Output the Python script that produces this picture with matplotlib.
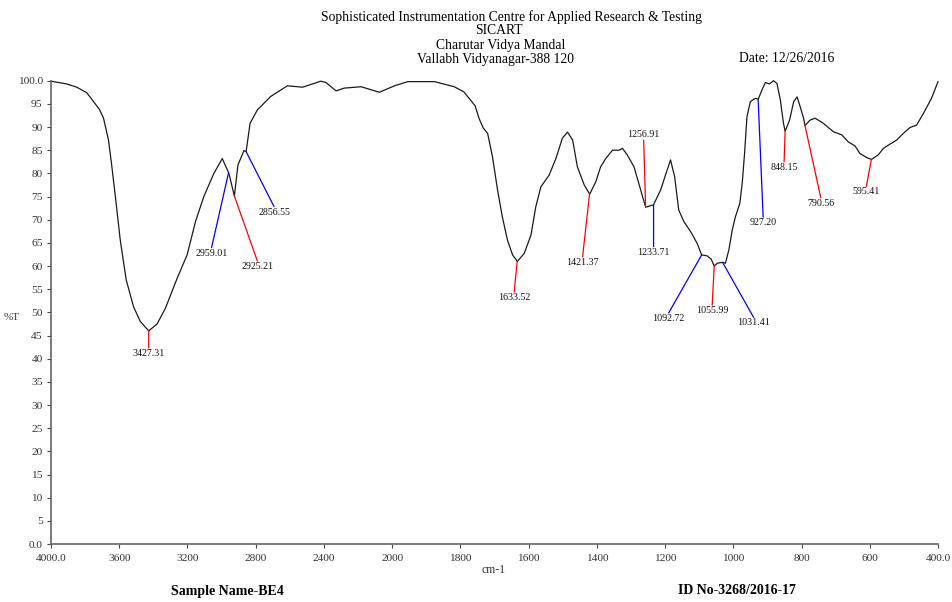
import numpy as np
import matplotlib
matplotlib.use("Agg")
import matplotlib.pyplot as plt

plt.rcParams["font.family"] = ["Liberation Serif", "DejaVu Serif"]

# FTIR spectrum, wavenumber (cm-1) vs transmittance (%T)
wavenumber = [4000, 3908, 3849, 3790, 3751, 3716, 3692, 3663, 3643, 3618, 3594, 3559,
              3516, 3476, 3427, 3378, 3329, 3261, 3202, 3153, 3104, 3045, 2996, 2957,
              2925, 2904, 2869, 2856, 2833, 2790, 2712, 2614, 2525, 2418, 2388, 2329,
              2281, 2182, 2075, 1993, 1954, 1876, 1818, 1790, 1770, 1757, 1745, 1733,
              1720, 1706, 1691, 1677, 1662, 1647, 1633, 1613, 1593, 1579, 1564, 1540,
              1520, 1501, 1486, 1471, 1457, 1437, 1421, 1403, 1389, 1374, 1354, 1335,
              1325, 1311, 1291, 1277, 1267, 1257, 1243, 1234, 1213, 1199, 1184, 1172,
              1160, 1145, 1125, 1106, 1093, 1077, 1065, 1056, 1047, 1032, 1023, 1013,
              1003, 994, 981, 974, 967, 960, 950, 935, 927, 916, 906, 894,
              882, 872, 862, 853, 848, 835, 823, 813, 804, 794, 790, 775,
              760, 736, 707, 682, 663, 643, 629, 609, 595, 575, 560, 541,
              521, 502, 482, 463, 443, 419, 400]
transmittance = [99.9, 99.3, 98.6, 97.4, 95.5, 93.8, 91.9, 87.2, 81.4, 73.5, 65.6, 57.0,
                 51.2, 48.0, 46.0, 47.5, 50.9, 57.3, 62.4, 69.6, 75.0, 80.0, 83.2, 80.0,
                 75.1, 81.8, 84.9, 84.7, 90.8, 93.7, 96.6, 98.9, 98.6, 99.9, 99.6, 97.8,
                 98.4, 98.7, 97.5, 98.9, 99.8, 99.8, 98.7, 97.6, 95.8, 94.6, 91.8, 89.8,
                 88.6, 83.6, 76.4, 70.6, 65.6, 62.4, 61.0, 62.7, 66.7, 72.8, 77.1, 79.6,
                 83.2, 87.6, 88.9, 87.2, 81.4, 77.5, 75.5, 78.2, 81.4, 83.2, 85.0, 85.0,
                 85.4, 84.0, 81.4, 77.8, 75.3, 72.7, 73.0, 73.2, 76.4, 79.6, 82.9, 79.3,
                 72.1, 69.6, 67.4, 64.9, 62.4, 62.2, 61.5, 60.0, 60.6, 60.8, 60.6, 63.5,
                 67.8, 70.6, 73.5, 77.8, 84.3, 92.2, 95.5, 96.2, 96.0, 98.0, 99.6, 99.3,
                 100.0, 99.4, 95.8, 90.8, 89.1, 91.5, 95.5, 96.5, 94.4, 91.9, 90.3, 91.5,
                 91.9, 90.8, 89.0, 88.3, 86.8, 85.9, 84.3, 83.4, 83.0, 84.0, 85.4, 86.3,
                 87.2, 88.6, 89.9, 90.4, 92.9, 96.2, 99.8]

# picked peaks and their marker colours
peaks = [3427.31, 2959.01, 2925.21, 2856.55, 1633.52, 1421.37, 1256.91, 1233.71,
         1092.72, 1055.99, 1031.41, 927.20, 848.15, 790.56, 595.41]
peak_colors = ["red", "blue", "red", "blue", "red", "red", "red", "blue",
               "blue", "red", "blue", "blue", "red", "red", "red"]
# leader line end, pixels from the peak point
peak_offsets = [(0, -17), (-17, -75), (23, -65), (28, -55), (-3, -31), (-7, -63),
                (-2, 67), (0, -42), (-33, -58), (-2, -39), (31, -55), (5, -118),
                (-1, -31), (16, -73), (-5, -27)]

x_ticks = [4000, 3600, 3200, 2800, 2400, 2000, 1800, 1600, 1400, 1200, 1000, 800, 600, 400]
x_labels = ["4000.0", "3600", "3200", "2800", "2400", "2000", "1800", "1600", "1400",
            "1200", "1000", "800", "600", "400.0"]
y_ticks = list(range(0, 101, 5))
y_labels = ["0.0"] + [str(v) for v in y_ticks[1:-1]] + ["100.0"]

W, H = 953, 602


def fwd(w):
    # region below 2000 cm-1 is drawn at double scale
    w = np.asarray(w, dtype=float)
    return np.where(w <= 2000, 2 * w, w + 2000)


def inv(p):
    p = np.asarray(p, dtype=float)
    return np.where(p <= 4000, p / 2, p - 2000)


def fpos(x, y):
    return x / W, 1 - y / H


fig = plt.figure(figsize=(W / 100, H / 100), dpi=100)
ax = fig.add_axes([51 / W, 1 - 544 / H, (938 - 51) / W, (544 - 80.7) / H])
ax.set_xscale("function", functions=(fwd, inv))
ax.set_xlim(4000, 400)
ax.set_ylim(0, 100)

ax.plot(wavenumber, transmittance, color="#1a1a1a", lw=0.9, clip_on=False)

wn_inc = np.array(wavenumber[::-1], dtype=float)
t_inc = np.array(transmittance[::-1], dtype=float)
for pk, col, (dx, dy) in zip(peaks, peak_colors, peak_offsets):
    t = float(np.interp(pk, wn_inc, t_inc))
    ax.annotate("", xy=(pk, t), xytext=(dx, dy), textcoords="offset pixels",
                arrowprops=dict(arrowstyle="-", color=col, lw=0.9,
                                shrinkA=0, shrinkB=0))
    ax.annotate("%.2f" % pk, xy=(pk, t), xytext=(dx, dy + (1 if dy > 0 else -1)),
                textcoords="offset pixels", ha="center",
                va="bottom" if dy > 0 else "top", fontsize=7.2, color="#111111")

ax.set_xticks(x_ticks)
ax.set_xticklabels(x_labels)
ax.set_yticks(y_ticks)
ax.set_yticklabels(y_labels)
ax.minorticks_off()
ax.tick_params(axis="both", length=3, width=0.8, colors="#444444",
               labelsize=8.2, labelcolor="#333333")
ax.tick_params(axis="x", pad=4)
ax.tick_params(axis="y", pad=3)

for side in ("top", "right"):
    ax.spines[side].set_visible(False)
for side in ("left", "bottom"):
    ax.spines[side].set_color("#666666")
    ax.spines[side].set_linewidth(1.2)

# header block
hdr = dict(fontsize=9.8, color="black", va="baseline")
fig.text(*fpos(512, 20.5), "Sophisticated Instrumentation Centre for Applied Research & Testing",
         ha="center", **hdr)
fig.text(*fpos(499, 34.5), "SICART", ha="center", **hdr)
fig.text(*fpos(501, 49.5), "Charutar Vidya Mandal", ha="center", **hdr)
fig.text(*fpos(496, 62.5), "Vallabh Vidyanagar-388 120", ha="center", **hdr)
fig.text(*fpos(787, 62.5), "Date: 12/26/2016", ha="center", **hdr)

fig.text(*fpos(20, 318), "%T", ha="right", va="center", fontsize=8, color="#333333")
fig.text(*fpos(493, 570), "cm-1", ha="center", va="center", fontsize=8.5, color="#333333")

fig.text(*fpos(227, 592), "Sample Name-BE4", ha="center", va="center",
         fontsize=10, fontweight="bold")
fig.text(*fpos(737, 591), "ID No-3268/2016-17", ha="center", va="center",
         fontsize=10, fontweight="bold")

fig.savefig("out.png", dpi=100)
